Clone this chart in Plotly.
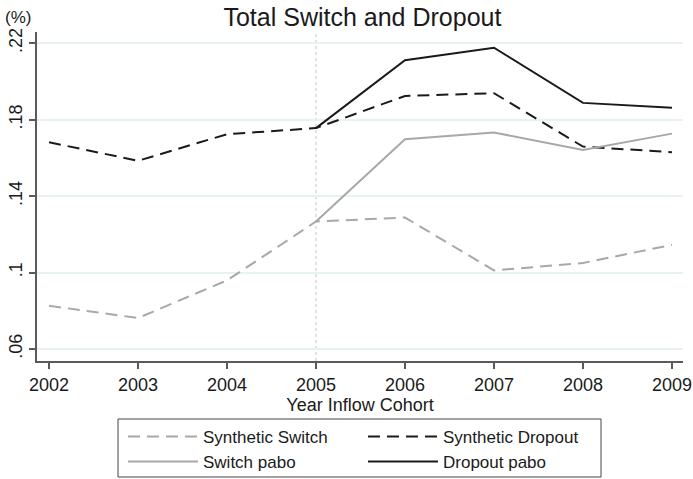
import plotly.graph_objects as go

# Inflow cohorts
years = [2002, 2003, 2004, 2005, 2006, 2007, 2008, 2009]
pabo_years = [2005, 2006, 2007, 2008, 2009]

# Shares per cohort
synthetic_switch = [0.0826, 0.0762, 0.0959, 0.1267, 0.1288, 0.1011, 0.1050, 0.1145]
synthetic_dropout = [0.1682, 0.1585, 0.1724, 0.1756, 0.1924, 0.1939, 0.1659, 0.1630]
switch_pabo = [0.1267, 0.1698, 0.1733, 0.1642, 0.1727]
dropout_pabo = [0.1756, 0.2111, 0.2177, 0.1888, 0.1863]

y_ticks = [0.06, 0.10, 0.14, 0.18, 0.22]
y_tick_text = [".06", ".1", ".14", ".18", ".22"]

FONT = "Liberation Sans, Arial, sans-serif"
TXT = "#1a1a1a"
AXIS = "#5a5a5a"

fig = go.Figure()
fig.add_trace(go.Scatter(x=years, y=synthetic_switch, mode="lines",
                         name="Synthetic Switch",
                         line=dict(color="#a8a8a8", width=2, dash="12px,7px")))
fig.add_trace(go.Scatter(x=years, y=synthetic_dropout, mode="lines",
                         name="Synthetic Dropout",
                         line=dict(color="#1a1a1a", width=2, dash="12px,7px")))
fig.add_trace(go.Scatter(x=pabo_years, y=switch_pabo, mode="lines",
                         name="Switch pabo",
                         line=dict(color="#a8a8a8", width=2)))
fig.add_trace(go.Scatter(x=pabo_years, y=dropout_pabo, mode="lines",
                         name="Dropout pabo",
                         line=dict(color="#1a1a1a", width=2)))

# dotted reference line at the 2005 cohort
fig.add_shape(type="line", xref="x", yref="paper", x0=2005, x1=2005, y0=0, y1=1,
              line=dict(color="#cfcfcf", width=1.2, dash="dot"), layer="below")

# frame around the legend
fig.add_shape(type="rect", xref="paper", yref="paper",
              x0=0.1254, x1=0.8731, y0=-0.3526, y1=-0.1763,
              line=dict(color="#444444", width=1), fillcolor="rgba(0,0,0,0)")

fig.update_layout(
    width=693, height=479,
    margin=dict(l=37, r=10, t=32, b=118, autoexpand=False),
    paper_bgcolor="white", plot_bgcolor="white",
    font=dict(family=FONT, size=17, color=TXT),
    title=dict(text="Total Switch and Dropout", x=0.523, xanchor="center",
               y=0.965, yanchor="middle", font=dict(size=25, color=TXT)),
    xaxis=dict(range=[2001.865, 2009.124], tickmode="array", tickvals=years,
               showgrid=False, zeroline=False, showline=True, linecolor=AXIS,
               linewidth=2, ticks="outside", ticklen=6, tickcolor=AXIS, tickwidth=1.5,
               tickfont=dict(size=18), title=dict(text="Year Inflow Cohort", standoff=0,
                                                  font=dict(size=18))),
    yaxis=dict(range=[0.0537, 0.2259], tickmode="array", tickvals=y_ticks,
               ticktext=y_tick_text, tickangle=-90, showgrid=True,
               gridcolor="#e8f1f3", gridwidth=1.5, zeroline=False, showline=True,
               linecolor=AXIS, linewidth=2, ticks="outside", ticklen=6,
               tickcolor=AXIS, tickwidth=1.5, tickfont=dict(size=18)),
    legend=dict(orientation="h", x=0.1331, xanchor="left", y=-0.176, yanchor="top",
                borderwidth=0, bgcolor="rgba(0,0,0,0)",
                entrywidth=155, entrywidthmode="pixels", itemwidth=70,
                font=dict(size=17), traceorder="normal"),
    showlegend=True,
)

fig.add_annotation(text="(%)", xref="paper", yref="paper", x=-0.052, y=1.045,
                   xanchor="left", yanchor="middle", showarrow=False,
                   font=dict(size=17, color=TXT))

fig.write_html("out.html")
